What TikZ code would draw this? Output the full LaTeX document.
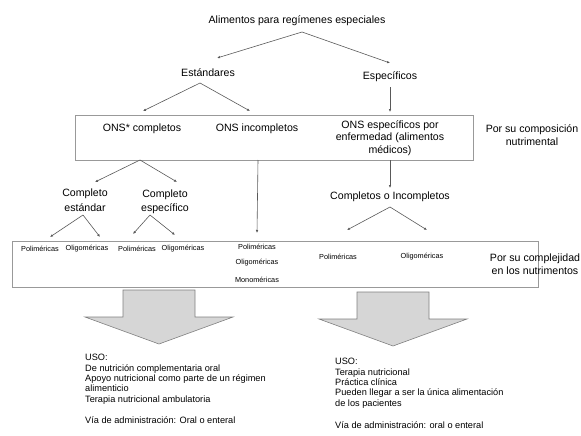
\documentclass[tikz,border=0pt]{standalone}
\usepackage{fontspec}
\setmainfont{Liberation Sans}
\usetikzlibrary{arrows.meta}
\tikzset{>={Latex[length=3pt,width=2.6pt]}}
\colorlet{Lcol}{black!65}
\colorlet{Bcol}{black!40}
\colorlet{Fcol}{black!16}
\tikzset{
  txt/.style={inner sep=0pt,align=center,font=\fontsize{10.6}{12.6}\selectfont},
  small/.style={inner sep=0pt,font=\fontsize{7.3}{8}\selectfont},
  conn/.style={->,draw=Lcol,line width=0.6pt},
  caja/.style={draw=Bcol,line width=0.7pt,inner sep=0pt},
  uso/.style={inner sep=0pt,align=left,anchor=north west,font=\fontsize{9.2}{10.4}\selectfont}
}
% big down arrow: centre x, top y
\newcommand\bigArrow[2]{
  \draw[draw=black!50,fill=Fcol,line width=0.6pt]
    (#1-36,#2) -- (#1+36,#2) -- (#1+36,#2+27) -- (#1+74,#2+27)
    -- (#1,#2+54) -- (#1-74,#2+27) -- (#1-36,#2+27) -- cycle;
}

\begin{document}
\begin{tikzpicture}[x=1pt,y=-1pt]
  \useasboundingbox (0,0) rectangle (581,436);
  % first levels
  \node[txt] (alim) at (297,21) {Alimentos para regímenes especiales};
  \node[txt] (est) at (208,73) {Estándares};
  \node[txt] (esp) at (390,77) {Específicos};
  \coordinate (alimB) at (302,32);
  \coordinate (estB) at (200,83);
  \coordinate (espB) at (390,87);
  \draw[conn] (alimB) -- (217,58) coordinate (estT);
  \draw[conn] (alimB) -- (390,63) coordinate (espT);

  % composition box
  \node[caja,minimum width=398pt,minimum height=45pt] (comp) at (274,137.5) {};
  \node[txt] (onsC) at (142,129) {ONS* completos};
  \node[txt] (onsI) at (257,129) {ONS incompletos};
  \node[txt] (onsE) at (390,138) {ONS específicos por\\enfermedad (alimentos\\médicos)};
  \node[txt] (compL) at (532,135) {Por su composición\\nutrimental};
  \draw[conn] (estB) -- (143,111);
  \draw[conn] (estB) -- (250,111);
  \draw[conn] (espB) -- (390,112);

  % second levels
  \node[txt,font=\fontsize{10.6}{14.5}\selectfont] (cEst) at (85,200) {Completo\\estándar};
  \node[txt,font=\fontsize{10.6}{14}\selectfont] (cEsp) at (165,202) {Completo\\específico};
  \node[txt] (cOI) at (390,197) {Completos o Incompletos};
  \coordinate (compA) at (140,160);
  \coordinate (compE) at (390,160);
  \draw[conn] (compA) -- (95,182);
  \draw[conn] (compA) -- (177,182);
  \draw[conn] (compE) -- (390,188);
  \draw[conn] (258,160) -- (257,233);
  \coordinate (cEstB) at (83,215);
  \coordinate (cEspB) at (150,215);
  \coordinate (cOIB) at (390,207);
  \draw[conn] (cEstB) -- (50,237);
  \draw[conn] (cEstB) -- (100,237);
  \draw[conn] (cEspB) -- (133,234);
  \draw[conn] (cEspB) -- (175,235);
  \draw[conn] (cOIB) -- (347,230);
  \draw[conn] (cOIB) -- (427,230);

  % complexity box
  \node[caja,minimum width=526pt,minimum height=46pt] (cplx) at (275,264) {};
  \node[small] (p1) at (40,249) {Poliméricas};
  \node[small] (o1) at (87,249) {Oligoméricas};
  \node[small] (p2) at (137,249) {Poliméricas};
  \node[small] (o2) at (183,249) {Oligoméricas};
  \node[small] (p3) at (257,247) {Poliméricas};
  \node[small] (o3) at (257,263) {Oligoméricas};
  \node[small] (m3) at (257,280) {Monoméricas};
  \node[small] (p4) at (338,257) {Poliméricas};
  \node[small] (o4) at (422,257) {Oligoméricas};
  \node[txt] (cplxL) at (535,264) {Por su complejidad\\en los nutrimentos};

  % uses
  \bigArrow{159}{290}
  \bigArrow{393}{292}
  \node[uso] (usoA) at (85,354) {USO:\\De nutrición complementaria oral\\Apoyo nutricional como parte de un régimen\\alimenticio\\Terapia nutricional ambulatoria\\[10.4pt]Vía de administración: Oral o enteral};
  \node[uso] (usoB) at (335,358) {USO:\\Terapia nutricional\\Práctica clínica\\Pueden llegar a ser la única alimentación\\de los pacientes\\[12pt]Vía de administración: oral o enteral};
\end{tikzpicture}
\end{document}
